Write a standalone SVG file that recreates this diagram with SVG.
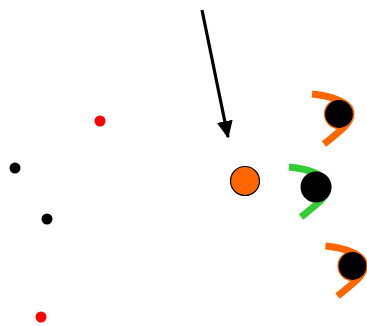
<svg xmlns="http://www.w3.org/2000/svg" width="367" height="326" viewBox="0 0 367 326">
<style>
.dot-red{fill:#ff0000}
.dot-black{fill:#000}
.cone{fill:none;stroke-width:7}
</style>
<defs>
<marker id="ah" markerWidth="6" markerHeight="6" refX="5" refY="3" orient="auto" markerUnits="strokeWidth">
<path d="M0,0.5 L5.5,3 L0,5.5 Z" fill="#000"/>
</marker>
<path id="chev" d="M-27,-20 C-8,-18 12,-12 12,0 C12,10 0,18 -15,30"/>
</defs>
<rect width="367" height="326" fill="#fff"/>
<g id="connectors">
<line x1="202" y1="10" x2="228" y2="137" stroke="#000" stroke-width="3.2" marker-end="url(#ah)"/>
</g>
<g id="p1"><circle class="dot-red" cx="100" cy="121" r="5.5"/></g>
<g id="p2"><circle class="dot-black" cx="15" cy="168" r="5.5"/></g>
<g id="p3"><circle class="dot-black" cx="47" cy="219" r="5.5"/></g>
<g id="p4"><circle class="dot-red" cx="41" cy="317" r="5.5"/></g>
<g id="target"><circle cx="245" cy="181" r="14.5" fill="#ff6600" stroke="#000" stroke-width="1.2"/></g>
<g id="n1">
<use href="#chev" x="339" y="114" class="cone" stroke="#ff6600"/>
<circle cx="339" cy="114" r="14.5" fill="#000" stroke="#ff6600" stroke-width="1.2"/>
</g>
<g id="n2">
<use href="#chev" x="316" y="187" class="cone" stroke="#33cc33"/>
<circle cx="316" cy="187" r="15.5" fill="#000"/>
</g>
<g id="n3">
<use href="#chev" x="352.5" y="266" class="cone" stroke="#ff6600"/>
<circle cx="352.5" cy="266" r="14.5" fill="#000" stroke="#ff6600" stroke-width="1.2"/>
</g>
</svg>
